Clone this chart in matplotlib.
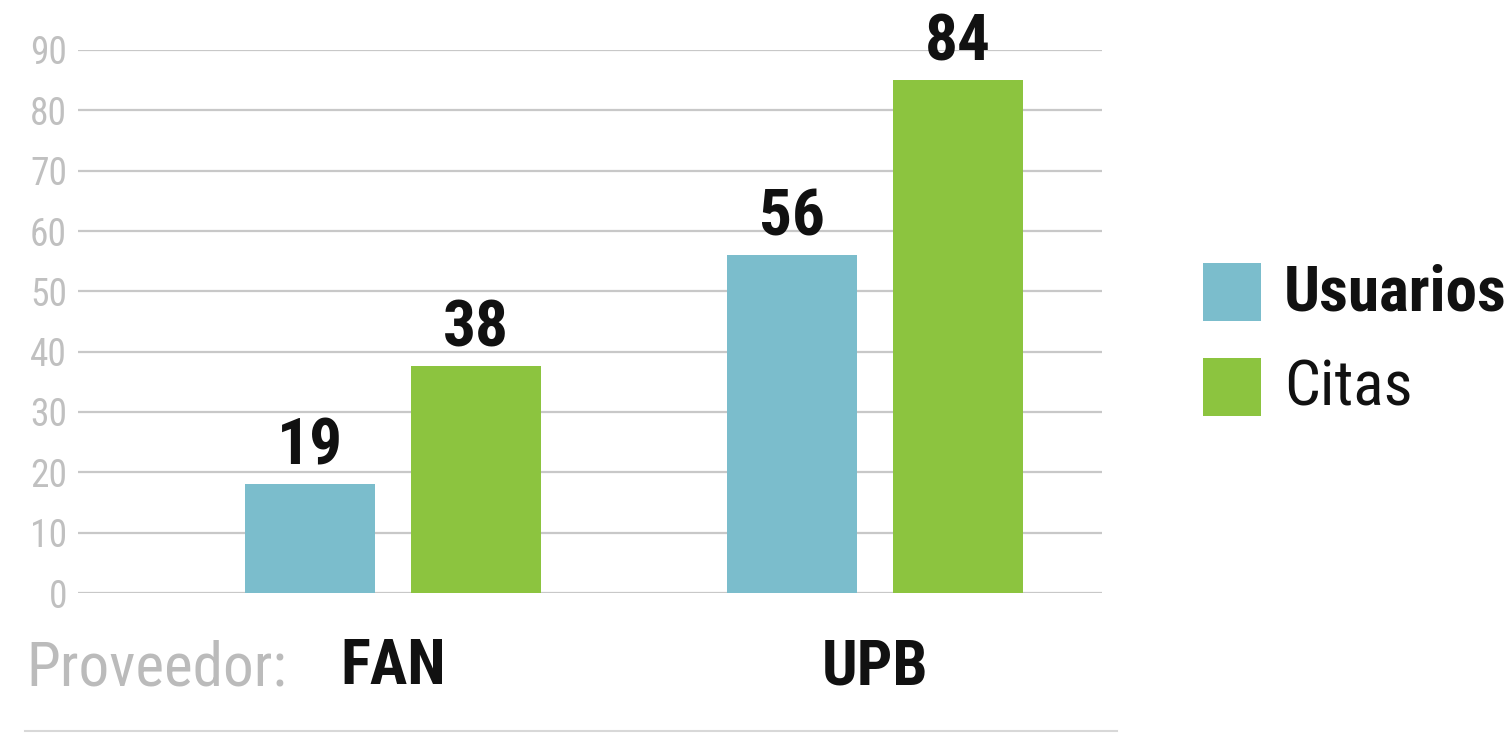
import matplotlib

matplotlib.use("Agg")
import matplotlib.pyplot as plt
from matplotlib import font_manager as fm
from matplotlib.patches import Rectangle

categories = ["FAN", "UPB"]
series_names = ["Usuarios", "Citas"]
usuarios = [18, 56]
citas = [37.6, 85]
value_labels = [["19", "56"], ["38", "84"]]
yticks = [0, 10, 20, 30, 40, 50, 60, 70, 80, 90]
colors = ["#7bbdcc", "#8cc43f"]


def pick_family():
    for name in ["Roboto Condensed", "Liberation Sans Narrow", "Open Sans Condensed", "Roboto"]:
        try:
            fm.findfont(fm.FontProperties(family=name), fallback_to_default=False)
            return name
        except Exception:
            continue
    return "DejaVu Sans"


family = pick_family()
plt.rcParams["font.family"] = [family, "DejaVu Sans"]

fig = plt.figure(figsize=(15.11, 7.33), dpi=100)
fig.patch.set_facecolor("white")
ax = fig.add_axes([78 / 1511, 140 / 733, 1024 / 1511, 543 / 733])

x = list(range(len(categories)))
bar_w = 0.27
offset = 0.172
for vals, labs, col, sign in [(usuarios, value_labels[0], colors[0], -1), (citas, value_labels[1], colors[1], 1)]:
    pos = [xi + sign * offset for xi in x]
    ax.bar(pos, vals, width=bar_w, color=col, zorder=3)
    for p, v, lab in zip(pos, vals, labs):
        ax.annotate(lab, (p, v), xytext=(0, 5), textcoords="offset points",
                    ha="center", va="bottom", fontsize=47, fontweight="bold",
                    color="#111111", clip_on=False, zorder=4)

ax.set_xlim(-0.6535, 1.471)
ax.set_ylim(0, 90)
ax.set_yticks(yticks)
ax.yaxis.grid(True, color="#c8c8c8", linewidth=1.6, zorder=0)
ax.set_axisbelow(True)
for s in ax.spines.values():
    s.set_visible(False)
ax.tick_params(axis="y", length=0, pad=8, labelsize=27, labelcolor="#c0c0c0")
ax.set_xticks(x)
ax.set_xticklabels(categories, fontsize=45, fontweight="bold", color="#111111")
ax.tick_params(axis="x", length=0, pad=32)

fig.text(26 / 1511, 1 - 668 / 733, "Proveedor:", fontsize=44, color="#bbbbbb",
         ha="left", va="center")

# bottom rule
fig.add_artist(plt.Line2D([25 / 1511, 1117 / 1511], [1 - 731 / 733] * 2,
                          transform=fig.transFigure, color="#d8d8d8", linewidth=1.5))

# legend
for i, (name, col) in enumerate(zip(series_names, colors)):
    y_top = [263, 358][i]
    fig.add_artist(Rectangle((1203 / 1511, 1 - (y_top + 58) / 733), 58 / 1511, 58 / 733,
                             transform=fig.transFigure, facecolor=col, edgecolor="none"))
    fig.text(1284 / 1511, 1 - (y_top + 30) / 733, name, fontsize=45.5,
             fontweight="bold" if i == 0 else "normal", color="#111111",
             ha="left", va="center")

fig.savefig("out.png", dpi=100)
